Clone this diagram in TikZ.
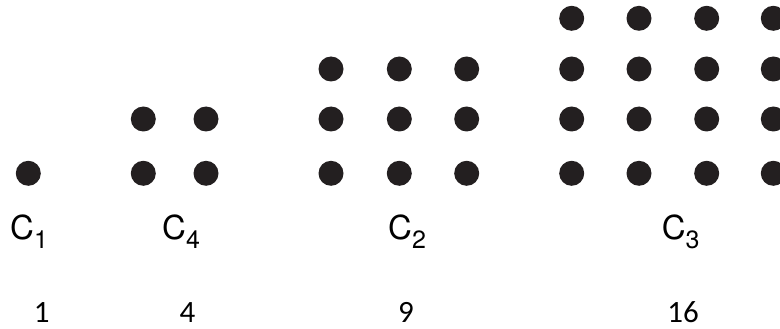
\documentclass[tikz,border=0pt]{standalone}
\usepackage{fontspec}
\setmainfont{Carlito}
\newfontfamily\herosfont{TeX Gyre Heros}
\definecolor{DotBlack}{HTML}{231F20}
\tikzset{
  dotNode/.style={
    circle,
    fill=DotBlack,
    inner sep=0pt,
    minimum size=25pt
  },
  setLabel/.style={
    anchor=base west,
    inner sep=0pt,
    font=\herosfont\fontsize{33pt}{36pt}\selectfont
  },
  countLabel/.style={
    anchor=base,
    inner sep=0pt,
    font=\fontsize{31pt}{34pt}\selectfont
  }
}
\newcommand{\setname}[1]{C\raisebox{-9pt}{\fontsize{25pt}{27pt}\selectfont #1}}

\begin{document}
\begin{tikzpicture}[x=1pt, y=-1pt]
        \useasboundingbox (0,0) rectangle (780,329);

        \node (d1-11) [dotNode] at (28.3,173.3) {};
        \foreach \c/\x in {1/143.3, 2/206}
          \foreach \r/\y in {1/119, 2/173.3}
            \node (d4-\r\c) [dotNode] at (\x,\y) {};
        \foreach \c/\x in {1/331, 2/399.3, 3/466.7}
          \foreach \r/\y in {1/69, 2/119, 3/173.3}
            \node (d2-\r\c) [dotNode] at (\x,\y) {};
        \foreach \c/\x in {1/571.7, 2/639, 3/706.7, 4/773.3}
          \foreach \r/\y in {1/18.3, 2/69, 3/119, 4/173.3}
            \node (d3-\r\c) [dotNode] at (\x,\y) {};

        \node (l1) [setLabel] at (10,239.3) {\setname{1}};
        \node (l4) [setLabel] at (162,239.3) {\setname{4}};
        \node (l2) [setLabel] at (388,239.3) {\setname{2}};
        \node (l3) [setLabel] at (661.7,239.3) {\setname{3}};

        \node (n1) [countLabel] at (41.7,322) {1};
        \node (n4) [countLabel] at (187.5,322) {4};
        \node (n9) [countLabel] at (406,322) {9};
        \node (n16) [countLabel] at (683,322) {16};
      \end{tikzpicture}
\end{document}
